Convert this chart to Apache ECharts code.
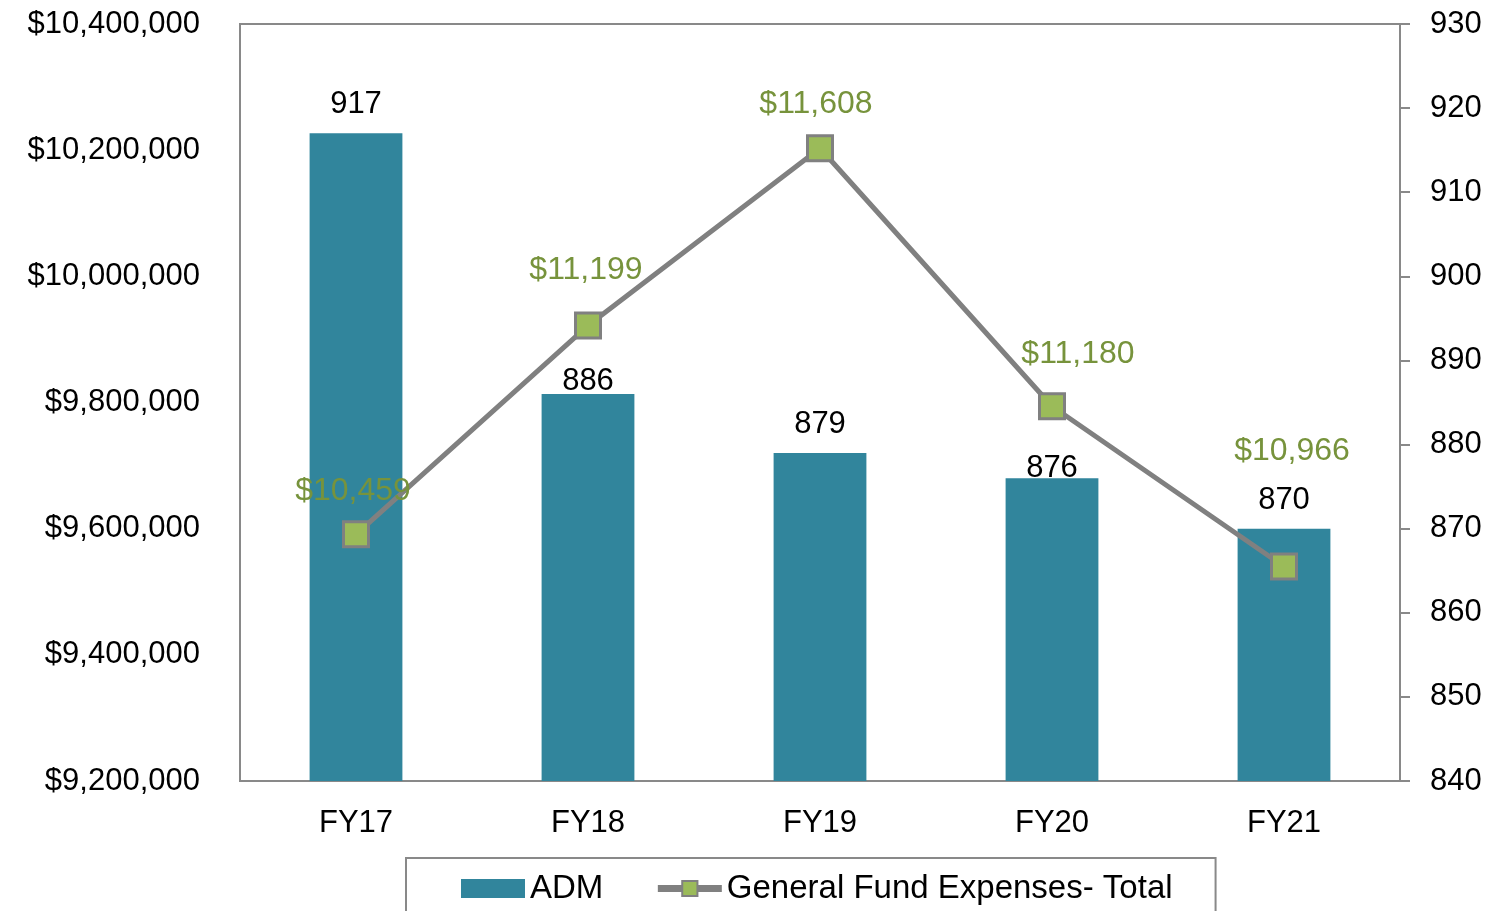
<!DOCTYPE html>
<html>
<head>
<meta charset="utf-8">
<script src="https://cdn.jsdelivr.net/npm/echarts@6/dist/echarts.min.js"></script>
<style>
  html, body { margin: 0; padding: 0; background: #fff; }
  #chart { width: 1503px; height: 911px; }
</style>
</head>
<body>
<div id="chart"></div>
<script>
// data
const years = ['FY17', 'FY18', 'FY19', 'FY20', 'FY21'];
const adm = [917, 886, 879, 876, 870];
const expTotal = [9591000, 9922000, 10203000, 9794000, 9540000];
const perPupil = [10459, 11199, 11608, 11180, 10966];

// label nudges (style only)
const barLabelShift = [0, 16, 0, 19, 0];
const lineLabelShift = [[-3, 3], [-2, -9], [-4, 2], [26, -6], [8, -69]];

const fmt = (v) => v.toLocaleString('en-US');
const font = 'Liberation Sans, Arial, sans-serif';
const axisGray = '#898989';

const chart = echarts.init(document.getElementById('chart'));

chart.setOption({
    animation: false,
    textStyle: { fontFamily: font },
    grid: {
        left: 240,
        right: 103,
        top: 24,
        bottom: 130,
        show: true,
        borderColor: axisGray,
        borderWidth: 2,
        backgroundColor: 'transparent',
    },
    legend: {
        left: 406,
        top: 858,
        padding: [14, 43, 40, 55],
        borderColor: axisGray,
        borderWidth: 2,
        itemGap: 51,
        itemWidth: 64,
        itemHeight: 19,
        textStyle: { fontSize: 33, color: '#000', fontFamily: font },
        data: [
            { name: 'ADM', icon: 'rect' },
            {
                name: 'General Fund Expenses- Total',
                lineStyle: { width: 7, color: '#808080' },
                itemStyle: { color: '#9bbb59', borderColor: '#808080', borderWidth: 2 },
            },
        ],
    },
    xAxis: {
        type: 'category',
        data: years,
        axisLine: { lineStyle: { color: axisGray, width: 2 } },
        axisTick: { show: false },
        axisLabel: { fontSize: 31, color: '#000', margin: 27 },
    },
    yAxis: [
        {
            type: 'value',
            min: 9200000,
            max: 10400000,
            interval: 200000,
            axisLine: { show: true, lineStyle: { color: axisGray, width: 2 } },
            axisTick: { show: false },
            splitLine: { show: false },
            axisLabel: { fontSize: 31, color: '#000', margin: 40, formatter: (v) => '$' + fmt(v) },
        },
        {
            type: 'value',
            min: 840,
            max: 930,
            interval: 10,
            position: 'right',
            axisLine: { show: true, lineStyle: { color: axisGray, width: 2 } },
            axisTick: { show: true, length: 10, lineStyle: { color: axisGray, width: 2 } },
            splitLine: { show: false },
            axisLabel: { fontSize: 31, color: '#000', margin: 30 },
        },
    ],
    series: [
        {
            name: 'ADM',
            type: 'bar',
            yAxisIndex: 1,
            barWidth: '40%',
            itemStyle: { color: '#31859c' },
            data: adm.map((v, i) => ({
                value: v,
                label: { offset: [0, barLabelShift[i]] },
            })),
            label: {
                show: true,
                position: 'top',
                distance: 13,
                fontSize: 31,
                color: '#000',
            },
            z: 1,
        },
        {
            name: 'General Fund Expenses- Total',
            type: 'line',
            yAxisIndex: 0,
            symbol: 'rect',
            symbolSize: 25,
            lineStyle: { color: '#808080', width: 5 },
            itemStyle: { color: '#9bbb59', borderColor: '#808080', borderWidth: 3 },
            data: expTotal.map((v, i) => ({
                value: v,
                label: {
                    offset: lineLabelShift[i],
                    formatter: '$' + fmt(perPupil[i]),
                },
            })),
            label: {
                show: true,
                position: 'top',
                distance: 16,
                fontSize: 32,
                color: '#77933c',
            },
            z: 3,
        },
    ],
});
</script>
</body>
</html>
